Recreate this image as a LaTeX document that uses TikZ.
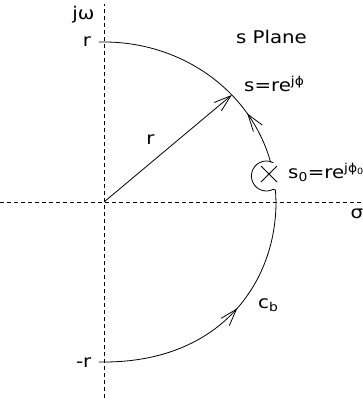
\documentclass[tikz,border=0pt]{standalone}
\usepackage{fontspec}
\setmainfont{DejaVu Sans}[FakeStretch=1.13]
\usetikzlibrary{arrows.meta,calc,decorations.markings}
\tikzset{
  axisline/.style={dash pattern=on 4pt off 3pt,line width=0.8pt},
  contour/.style ={line width=0.8pt},
  lbl/.style     ={inner sep=0pt,font=\fontsize{17.5}{21}\selectfont},
  barb/.style    ={-{Straight Barb[length=17pt,width=11pt]}},
  midbarb/.style ={postaction={decorate},decoration={markings,
                    mark=at position #1 with {\arrow{Straight Barb[length=17pt,width=11pt]}}}},
  pole/.style    ={line width=0.8pt},
}

\begin{document}
\begin{tikzpicture}[x=1pt,y=1pt]
  \useasboundingbox (-104,-200) rectangle (258,202);
  \coordinate (O)   at (0,0);
  \coordinate (top) at (0,160);
  \coordinate (bot) at (0,-160);
  \coordinate (S)   at (42:172 and 160);
  \coordinate (P)   at (165,28);
  \coordinate (cx)  at (172,0);
  % axes
  \draw[axisline] (-104,0) -- (258,0);
  \draw[axisline] (0,-196) -- (0,198);
  % contour c_b, lower quarter
  \draw[contour,midbarb=0.57] ($(bot)+(-5,0)$) -- (bot) .. controls (117,-160) and (172,-80) .. (cx);
  % indentation round the pole
  \draw[contour] (cx) -- (171.5,12) -- (169.3,12.7)
    arc[start angle=-62.6,end angle=-297.4,radius=15] -- (14.5:172 and 160);
  % upper quarter
  \draw[contour,midbarb=0.24] (14.5:172 and 160)
    arc[start angle=14.5,end angle=90,x radius=172,y radius=160] -- ($(top)+(-5,0)$);
  % radius
  \draw[contour,barb] (O) -- (S);
  % pole
  \draw[pole] (P) +(-8,-8) -- +(8,8) +(-8,8) -- +(8,-8);
  % labels
  \node[lbl,anchor=base] (jw)    at (-20.7,182)   {jω};
  \node[lbl,anchor=base] (rtop)  at (-17,155.3)   {r};
  \node[lbl,anchor=base] (rbot)  at (-20.3,-165.7){-r};
  \node[lbl,anchor=base] (plane) at (167.5,158.7) {s Plane};
  \node[lbl,anchor=base west] (slbl)  at (140,110.3) {s=re\textsuperscript{jϕ}};
  \node[lbl,anchor=base] (rmid)  at (46.5,58)     {r};
  \node[lbl,anchor=base west] (s0lbl) at (184,23.7)
    {s\textsubscript{0}=re\textsuperscript{jϕ\textsubscript{0}}};
  \node[lbl,anchor=base] (sigma) at (253,-16.3)   {σ};
  \node[lbl,anchor=base west] (cb) at (154,-106)  {c\textsubscript{b}};
\end{tikzpicture}
\end{document}
